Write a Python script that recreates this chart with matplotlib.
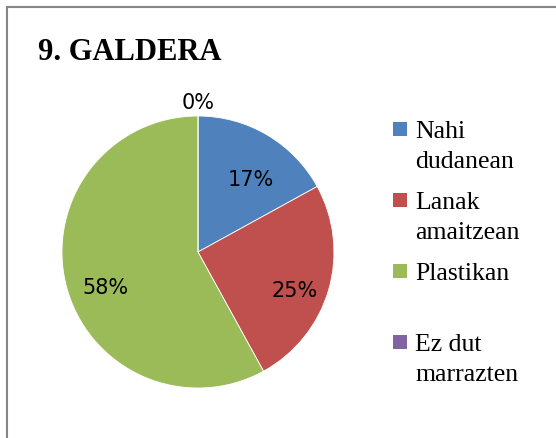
import matplotlib
matplotlib.use("Agg")
import matplotlib.pyplot as plt
from matplotlib.patches import Rectangle

# --------------------------------------------------------------
# Data
# --------------------------------------------------------------
labels = ["Nahi\ndudanean", "Lanak\namaitzean", "Plastikan", "Ez dut\nmarrazten"]
values = [17, 25, 58, 0]
colors = ["#4F81BD", "#C0504D", "#9BBB59", "#8064A2"]
title = "9. GALDERA"

W, H = 556, 439
fig = plt.figure(figsize=(W / 100, H / 100), dpi=100)

# chart area border (top + left only visible)
fig.patches.append(Rectangle((6.5 / W, -0.2), 1.5, 1.2 - 7.5 / H,
                             transform=fig.transFigure, fill=False,
                             edgecolor="#868686", linewidth=1.5))

# --------------------------------------------------------------
# Pie
# --------------------------------------------------------------
cx, cy, r = 198, 253, 136
ax = fig.add_axes([(cx - r) / W, (H - cy - r) / H, 2 * r / W, 2 * r / H])
wedges, texts, autotexts = ax.pie(
    values, colors=colors, startangle=90, counterclock=False,
    autopct=lambda p: f"{p:.0f}%", pctdistance=0.72,
    wedgeprops=dict(edgecolor="white", linewidth=0.6),
    textprops=dict(fontsize=15, family="DejaVu Sans", color="black"))
ax.set_aspect("auto")
ax.set_xlim(-1, 1)
ax.set_ylim(-1, 1)

# zero-size slice label sits outside the pie, others nudged down a bit
for v, t in zip(values, autotexts):
    x, y = t.get_position()
    if v == 0:
        t.set_position((x * 1.1 / 0.72, y * 1.1 / 0.72))
    else:
        t.set_position((x + 0.02, y - 0.08))

# --------------------------------------------------------------
# Title and legend
# --------------------------------------------------------------
fig.text(38 / W, 1 - 60 / H, title, fontsize=22, fontweight="bold",
         family="Liberation Serif", va="baseline", ha="left")

for i, (lab, col) in enumerate(zip(labels, colors)):
    base = 138 + 71 * i
    fig.patches.append(Rectangle((393 / W, 1 - (base - 1) / H), 14 / W, 14 / H,
                                 transform=fig.transFigure, facecolor=col,
                                 edgecolor="none"))
    for j, line in enumerate(lab.split("\n")):
        fig.text(415 / W, 1 - (base + 30 * j) / H, line, fontsize=18.5,
                 family="Liberation Serif", va="baseline", ha="left")

fig.savefig("out.png", dpi=100)
